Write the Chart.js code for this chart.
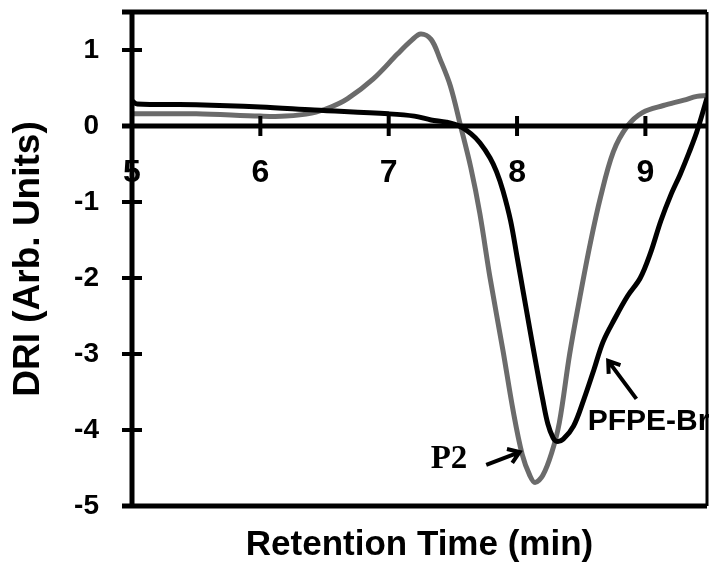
<!DOCTYPE html>
<html>
<head>
<meta charset="utf-8">
<script src="https://cdn.jsdelivr.net/npm/chart.js@4/dist/chart.umd.min.js"></script>
<style>
  html, body { margin: 0; padding: 0; background: #fff; }
  #wrap { width: 709px; height: 562px; }
</style>
</head>
<body>
<div id="wrap"><canvas id="grafico"></canvas></div>
<script>
// PFPE-Br (black) trace
const tempoBr = [5.0, 5.04, 5.5, 6.0, 6.42, 7.0, 7.2, 7.33, 7.45, 7.55, 7.64, 7.71, 7.79, 7.84, 7.89, 7.95, 8.0, 8.05, 8.1, 8.15, 8.2, 8.24, 8.28, 8.31, 8.36, 8.44, 8.52, 8.6, 8.67, 8.76, 8.86, 8.96, 9.04, 9.12, 9.2, 9.27, 9.34, 9.4, 9.48];
const driBr = [0.33, 0.29, 0.28, 0.25, 0.21, 0.16, 0.13, 0.08, 0.05, 0.0, -0.1, -0.22, -0.42, -0.6, -0.85, -1.25, -1.72, -2.2, -2.68, -3.15, -3.6, -3.92, -4.1, -4.15, -4.12, -3.95, -3.6, -3.2, -2.84, -2.54, -2.24, -2.0, -1.67, -1.25, -0.9, -0.64, -0.35, -0.08, 0.37];

// P2 (grey) trace
const tempoP2 = [5.0, 5.5, 6.0, 6.2, 6.4, 6.55, 6.68, 6.88, 7.07, 7.18, 7.25, 7.33, 7.4, 7.48, 7.56, 7.64, 7.71, 7.79, 7.89, 7.97, 8.04, 8.1, 8.14, 8.2, 8.27, 8.33, 8.41, 8.49, 8.57, 8.65, 8.75, 8.86, 8.98, 9.14, 9.3, 9.4, 9.48];
const driP2 = [0.16, 0.16, 0.13, 0.13, 0.17, 0.25, 0.36, 0.62, 0.95, 1.13, 1.21, 1.14, 0.88, 0.53, 0.0, -0.55, -1.15, -2.0, -2.95, -3.75, -4.32, -4.6, -4.69, -4.6, -4.3, -3.9, -3.0, -2.25, -1.55, -0.94, -0.34, 0.0, 0.18, 0.27, 0.34, 0.39, 0.4];

const ticksX = [5, 6, 7, 8, 9];
const ticksY = [1, 0, -1, -2, -3, -4, -5];

// annotations: [x, y] in data units
const rotuloP2 = [7.47, -4.39];
const setaP2 = [[7.76, -4.46], [8.02, -4.29]];
const rotuloBr = [8.55, -3.89];
const setaBr = [[8.93, -3.59], [8.71, -3.09]];

const arial = 'Arial, "Liberation Sans", sans-serif';
const times = '"Times New Roman", "Liberation Serif", serif';

function toPontos(xs, ys) {
  return xs.map((x, i) => ({ x: x, y: ys[i] }));
}

function seta(ctx, x1, y1, x2, y2) {
  const ang = Math.atan2(y2 - y1, x2 - x1);
  const h = 13;
  ctx.beginPath();
  ctx.moveTo(x1, y1);
  ctx.lineTo(x2, y2);
  ctx.moveTo(x2 - h * Math.cos(ang - 0.6), y2 - h * Math.sin(ang - 0.6));
  ctx.lineTo(x2, y2);
  ctx.lineTo(x2 - h * Math.cos(ang + 0.6), y2 - h * Math.sin(ang + 0.6));
  ctx.stroke();
}

// axes lines, crossing tick marks, plot box and arrows
const eixos = {
  id: 'eixos',
  afterDatasetsDraw(chart) {
    const ctx = chart.ctx;
    const a = chart.chartArea;
    const sx = chart.scales.x;
    const sy = chart.scales.y;
    const y0 = sy.getPixelForValue(0);
    ctx.save();
    ctx.strokeStyle = '#000';
    ctx.lineCap = 'butt';

    // box
    ctx.lineWidth = 5;
    ctx.beginPath();
    ctx.moveTo(a.left - 10, a.top);
    ctx.lineTo(a.right, a.top);
    ctx.moveTo(a.left - 10, a.bottom);
    ctx.lineTo(a.right, a.bottom);
    ctx.moveTo(a.left, a.top);
    ctx.lineTo(a.left, a.bottom);
    ctx.stroke();
    ctx.lineWidth = 3;
    ctx.beginPath();
    ctx.moveTo(a.right, a.top);
    ctx.lineTo(a.right, a.bottom);
    ctx.stroke();

    // x axis at y = 0
    ctx.lineWidth = 5;
    ctx.beginPath();
    ctx.moveTo(a.left - 10, y0);
    ctx.lineTo(a.right, y0);
    ctx.stroke();

    // tick marks
    ctx.lineWidth = 4;
    ctx.beginPath();
    ticksY.forEach(v => {
      const py = sy.getPixelForValue(v);
      ctx.moveTo(a.left - 10, py);
      ctx.lineTo(a.left + 10, py);
    });
    ticksX.forEach(v => {
      const px = sx.getPixelForValue(v);
      ctx.moveTo(px, y0 - 10);
      ctx.lineTo(px, y0 + 10);
    });
    ctx.stroke();

    // annotations
    ctx.lineWidth = 4;
    seta(ctx, sx.getPixelForValue(setaP2[0][0]), sy.getPixelForValue(setaP2[0][1]),
      sx.getPixelForValue(setaP2[1][0]), sy.getPixelForValue(setaP2[1][1]));
    seta(ctx, sx.getPixelForValue(setaBr[0][0]), sy.getPixelForValue(setaBr[0][1]),
      sx.getPixelForValue(setaBr[1][0]), sy.getPixelForValue(setaBr[1][1]));

    ctx.fillStyle = '#000';
    ctx.textBaseline = 'middle';
    ctx.textAlign = 'center';
    ctx.font = 'bold 33px ' + times;
    ctx.fillText('P2', sx.getPixelForValue(rotuloP2[0]), sy.getPixelForValue(rotuloP2[1]));
    ctx.textAlign = 'left';
    ctx.font = 'bold 30px ' + arial;
    ctx.fillText('PFPE-Br', sx.getPixelForValue(rotuloBr[0]), sy.getPixelForValue(rotuloBr[1]));
    ctx.restore();
  }
};

const ctx = document.getElementById('grafico').getContext('2d');
new Chart(ctx, {
  type: 'line',
  data: {
    datasets: [
      {
        label: 'PFPE-Br',
        data: toPontos(tempoBr, driBr),
        borderColor: '#000000',
        borderWidth: 5,
        pointRadius: 0,
        tension: 0.35,
        xAxisID: 'x',
        yAxisID: 'y'
      },
      {
        label: 'P2',
        data: toPontos(tempoP2, driP2),
        borderColor: '#6b6b6b',
        borderWidth: 5,
        pointRadius: 0,
        tension: 0.35,
        xAxisID: 'x',
        yAxisID: 'y'
      }
    ]
  },
  options: {
    responsive: true,
    maintainAspectRatio: false,
    animation: false,
    layout: { padding: { top: 12, right: 2, left: 0, bottom: 0 } },
    plugins: {
      legend: { display: false },
      tooltip: { enabled: false }
    },
    scales: {
      x: {
        type: 'linear',
        position: { y: 0 },
        min: 5,
        max: 9.48,
        afterBuildTicks: s => { s.ticks = ticksX.map(v => ({ value: v })); },
        afterFit: s => { s.paddingLeft = 0; s.paddingRight = 0; },
        grid: { display: false },
        border: { display: false },
        ticks: {
          color: '#000',
          padding: 20,
          maxRotation: 0,
          font: { family: arial, size: 32, weight: 'bold' },
          callback: v => String(v)
        }
      },
      xt: {
        type: 'linear',
        position: 'bottom',
        min: 5,
        max: 9.48,
        grid: { display: false, drawTicks: false },
        border: { display: false },
        ticks: { display: false },
        title: {
          display: true,
          text: 'Retention Time (min)',
          color: '#000',
          font: { family: arial, size: 35, weight: 'bold' },
          padding: { top: 18, bottom: -4 }
        }
      },
      y: {
        type: 'linear',
        position: 'left',
        min: -5,
        max: 1.5,
        afterBuildTicks: s => { s.ticks = ticksY.map(v => ({ value: v })); },
        afterFit: s => { s.width = 132; s.paddingTop = 0; s.paddingBottom = 0; },
        grid: { display: false },
        border: { display: false },
        ticks: {
          color: '#000',
          padding: 25,
          font: { family: arial, size: 28, weight: 'bold' },
          callback: v => String(v)
        },
        title: {
          display: true,
          text: 'DRI (Arb. Units)',
          color: '#000',
          font: { family: arial, size: 37, weight: 'bold' },
          padding: { top: 7, bottom: 0 }
        }
      }
    }
  },
  plugins: [eixos]
});
</script>
</body>
</html>
